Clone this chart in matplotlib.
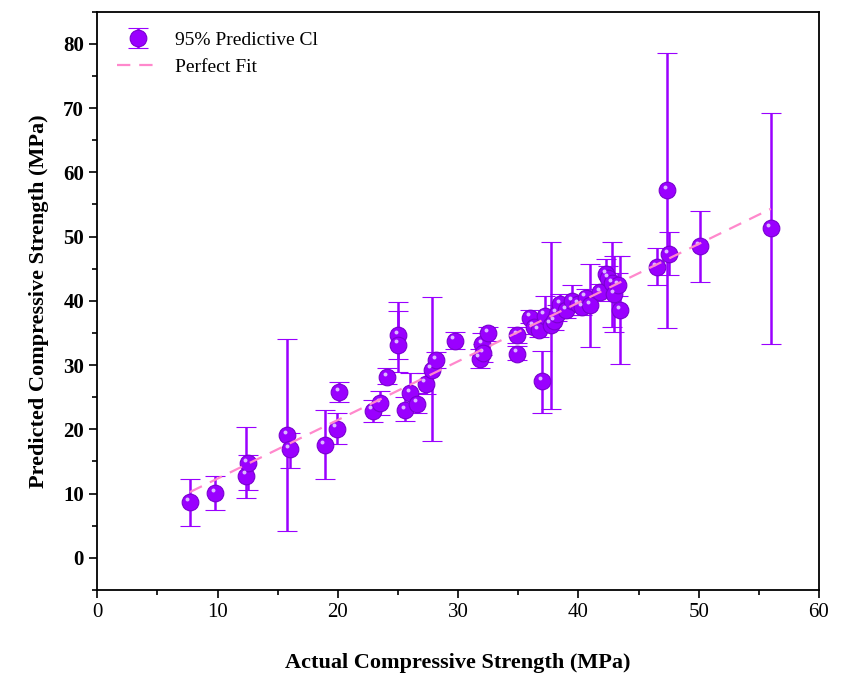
import numpy as np
import matplotlib
matplotlib.use("Agg")
import matplotlib.pyplot as plt
from matplotlib.ticker import MultipleLocator

plt.rcParams['font.family'] = ['Liberation Serif', 'DejaVu Serif']

# actual, predicted, lower CI, upper CI
actual = [7.7, 9.8, 12.4, 12.5, 15.8, 16.0, 18.9, 19.9, 20.1, 22.9, 23.5, 24.1,
          25.0, 25.0, 25.6, 26.0, 26.6, 27.3, 27.8, 28.2, 29.7, 31.8, 32.0, 32.1,
          32.5, 34.9, 34.9, 36.0, 36.3, 36.7, 37.0, 37.2, 37.7, 38.0, 38.2, 38.5,
          39.0, 39.5, 40.0, 40.3, 40.6, 41.0, 41.8, 42.3, 42.5, 42.8, 43.0, 43.5,
          43.3, 46.5, 47.4, 47.5, 50.1, 56.0]
predicted = [8.7, 10.1, 12.8, 14.7, 19.1, 16.9, 17.6, 20.1, 25.8, 22.9, 24.1, 28.1,
             34.7, 33.2, 23.0, 25.6, 24.0, 27.1, 29.3, 30.8, 33.8, 31.0, 33.3, 31.9,
             35.0, 34.7, 31.8, 37.4, 36.0, 35.5, 27.5, 37.7, 36.3, 36.8, 38.0, 39.5,
             38.5, 40.0, 39.5, 39.0, 40.5, 39.3, 41.3, 44.2, 43.5, 42.8, 41.0, 38.6,
             42.5, 45.3, 57.2, 47.3, 48.5, 51.3]
lower = [5.0, 7.4, 9.3, 10.5, 4.1, 14.0, 12.2, 17.7, 24.3, 21.2, 22.3, 27.0,
         29.0, 31.0, 21.3, 24.0, 22.5, 25.5, 18.2, 29.5, 32.5, 29.6, 31.5, 30.5,
         33.8, 33.5, 30.8, 36.5, 34.8, 34.3, 22.6, 35.5, 23.2, 35.5, 36.8, 38.0,
         37.3, 37.8, 38.3, 37.8, 39.2, 32.8, 40.0, 42.0, 41.8, 36.0, 35.2, 30.1,
         40.8, 42.5, 35.7, 44.0, 43.0, 33.3]
upper = [12.2, 12.8, 20.3, 16.0, 34.1, 19.5, 23.0, 22.5, 27.3, 24.6, 26.0, 29.5,
         39.8, 38.4, 25.0, 28.8, 25.6, 28.8, 40.6, 32.0, 35.2, 32.5, 35.0, 33.3,
         36.0, 36.0, 33.0, 38.5, 37.2, 36.8, 32.2, 40.7, 49.2, 38.2, 39.3, 41.0,
         39.8, 42.5, 40.8, 40.3, 41.8, 45.8, 42.6, 46.5, 45.5, 49.2, 47.0, 47.0,
         44.3, 48.2, 78.6, 50.7, 54.0, 69.3]
fit_slope, fit_intercept = 0.913, 3.2

actual = np.array(actual)
predicted = np.array(predicted)
yerr = [predicted - np.array(lower), np.array(upper) - predicted]

fig = plt.figure(figsize=(8.46, 6.94), dpi=100)
ax = fig.add_axes([0.115, 0.150, 0.853, 0.833])

purple = '#9a00ff'
eb = ax.errorbar(actual, predicted, yerr=yerr, fmt='o', color=purple, ecolor=purple,
                 elinewidth=1.8, capsize=7, capthick=1.8, markersize=12,
                 markeredgecolor='#7a00d0', markeredgewidth=0.8,
                 label='95% Predictive Cl', zorder=3)
# small highlight to mimic the sphere look
ax.scatter(actual - 0.2, predicted + 0.5, s=8, color='#dcb8ff', zorder=4, linewidths=0)

xs = np.array([actual.min(), actual.max()])
fit, = ax.plot(xs, fit_slope * xs + fit_intercept, '--', color='#ff88cc', lw=1.6,
               dashes=(6, 4), label='Perfect Fit', zorder=5)

ax.set_xlim(0, 60)
ax.set_ylim(-5, 85)
ax.xaxis.set_major_locator(MultipleLocator(10))
ax.xaxis.set_minor_locator(MultipleLocator(5))
ax.yaxis.set_major_locator(MultipleLocator(10))
ax.yaxis.set_minor_locator(MultipleLocator(5))
ax.tick_params(which='both', direction='out', width=1.2)
ax.tick_params(which='major', length=6, labelsize=15)
ax.tick_params(which='minor', length=3.5)
for lab in ax.get_yticklabels():
    lab.set_fontweight('bold')
for sp in ax.spines.values():
    sp.set_linewidth(1.3)

ax.set_xlabel('Actual Compressive Strength (MPa)', fontsize=16, fontweight='bold', labelpad=22)
ax.set_ylabel('Predicted Compressive Strength (MPa)', fontsize=16, fontweight='bold', labelpad=10)

ax.legend([eb, fit], ['95% Predictive Cl', 'Perfect Fit'], loc='upper left',
          frameon=False, fontsize=14, handlelength=2.2, borderaxespad=0.6)

plt.savefig('out.png', dpi=100)
